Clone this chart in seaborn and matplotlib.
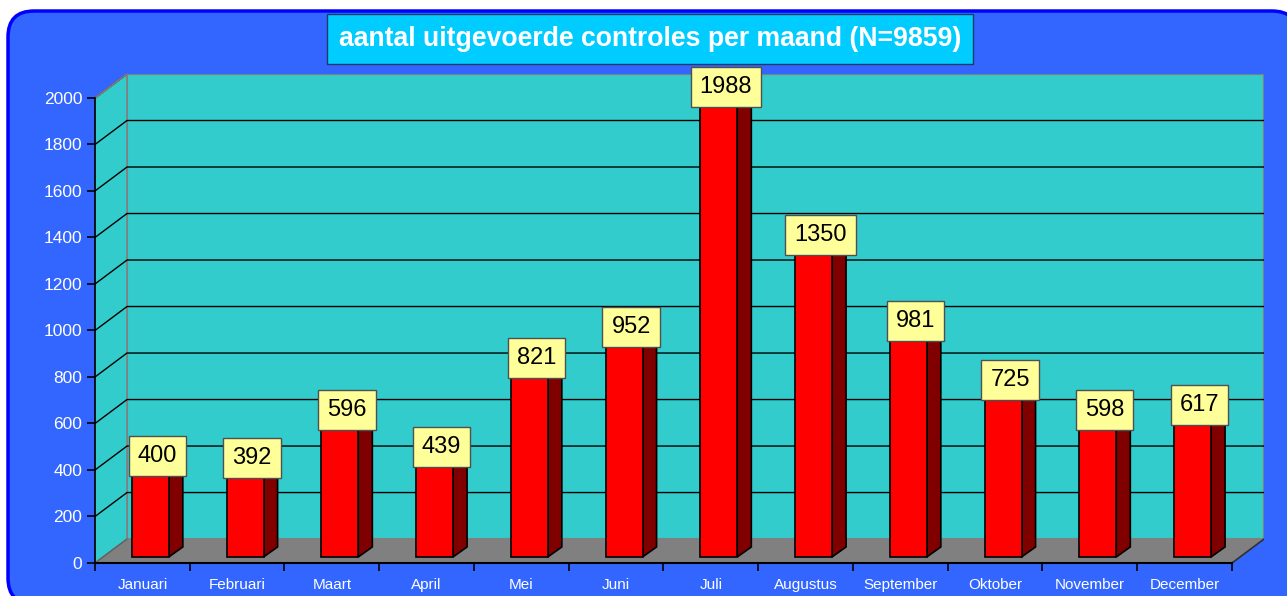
import matplotlib
matplotlib.use("Agg")
import matplotlib.pyplot as plt
import matplotlib.transforms as mtransforms
from matplotlib.patches import Polygon, FancyBboxPatch
import seaborn as sns

# DATA
maanden = ['Januari', 'Februari', 'Maart', 'April', 'Mei', 'Juni', 'Juli',
           'Augustus', 'September', 'Oktober', 'November', 'December']
controles = [400, 392, 596, 439, 821, 952, 1988, 1350, 981, 725, 598, 617]
y_ticks = [0, 200, 400, 600, 800, 1000, 1200, 1400, 1600, 1800, 2000]
titel = 'aantal uitgevoerde controles per maand (N=9859)'

sns.set_style("white")
plt.rcParams['font.family'] = ['Liberation Sans', 'DejaVu Sans']

# 3D look: depth of the back wall and of the bars (x in categories, y in values)
wall_dx, wall_dy = 0.338, 103
bar_dx, bar_dy = 0.084, 26        # bar base sits a bit behind the front edge
side_dx, side_dy = 0.148, 43      # depth of each bar
y_max = 2000
n = len(maanden)

fig = plt.figure(figsize=(12.87, 5.96), dpi=100)
fig.patch.set_facecolor('white')

# blue rounded background panel (pixel coordinates)
panel = FancyBboxPatch((8, -8), 1290, 585 + 8, boxstyle="round,pad=0,rounding_size=26",
                       transform=mtransforms.IdentityTransform(),
                       facecolor='#3366FF', edgecolor='#0000FF', linewidth=2.5, zorder=-5)
fig.patches.append(panel)

ax = fig.add_axes([95 / 1287, 33 / 596, 1169 / 1287, 489 / 596])
ax.set_facecolor('none')

# front faces of the bars
sns.barplot(x=maanden, y=controles, order=maanden, ax=ax, color='#FF0000',
            saturation=1, edgecolor='black', linewidth=1.2, width=0.39, zorder=4)

ax.set_xlim(-0.5, n - 0.5 + wall_dx)
ax.set_ylim(0, y_max + wall_dy)

# back wall + left wall
x0, x1 = -0.5, n - 0.5
ax.add_patch(Polygon([(x0 + wall_dx, wall_dy), (x1 + wall_dx, wall_dy),
                      (x1 + wall_dx, y_max + wall_dy), (x0 + wall_dx, y_max + wall_dy)],
                     closed=True, facecolor='#33CCCC', edgecolor='#808080', lw=1.5, zorder=1))
ax.add_patch(Polygon([(x0, 0), (x0 + wall_dx, wall_dy), (x0 + wall_dx, y_max + wall_dy),
                      (x0, y_max)], closed=True, facecolor='#33CCCC', edgecolor='#808080',
                     lw=1.2, zorder=1))
# floor
ax.add_patch(Polygon([(x0, 0), (x1, 0), (x1 + wall_dx, wall_dy), (x0 + wall_dx, wall_dy)],
                     closed=True, facecolor='#808080', edgecolor='none', zorder=2))
ax.plot([x1, x1 + wall_dx], [0, wall_dy], color='#303030', lw=1.2, zorder=2)
ax.plot([x0, x0 + wall_dx], [0, wall_dy], color='#606060', lw=1.0, zorder=2)

# grid lines on back and side wall
for v in y_ticks[1:]:
    ax.plot([x0, x0 + wall_dx, x1 + wall_dx], [v, v + wall_dy, v + wall_dy],
            color='black', lw=1.0, zorder=1.5)
ax.plot([x0 + wall_dx, x1 + wall_dx], [y_max + wall_dy] * 2, color='#808080', lw=1.5, zorder=1.6)
ax.plot([x0, x0 + wall_dx], [y_max, y_max + wall_dy], color='#808080', lw=1.2, zorder=1.6)

shift = mtransforms.Affine2D().translate(bar_dx, bar_dy) + ax.transData
for p, val in zip(ax.patches[:n], controles):
    p.set_transform(shift)
    p.set_zorder(4)
    xl = p.get_x() + bar_dx
    xr = xl + p.get_width()
    top = bar_dy + p.get_height()
    # side face
    ax.add_patch(Polygon([(xr, bar_dy), (xr + side_dx, bar_dy + side_dy),
                          (xr + side_dx, top + side_dy), (xr, top)], closed=True,
                         facecolor='#800000', edgecolor='black', lw=1.2, zorder=3.9))
    # top face
    ax.add_patch(Polygon([(xl, top), (xr, top), (xr + side_dx, top + side_dy),
                          (xl + side_dx, top + side_dy)], closed=True,
                         facecolor='#FF0000', edgecolor='black', lw=1.2, zorder=3.9))
    ax.text(xl + (xr - xl + side_dx) / 2, top + side_dy * 0.35 + 20, f'{val}',
            ha='center', va='center', fontsize=17, color='black', zorder=6, clip_on=False,
            bbox=dict(boxstyle='square,pad=0.38', facecolor='#FFFF99',
                      edgecolor='#505050', linewidth=1))

# axes: front y axis and x axis
for s in ['top', 'right']:
    ax.spines[s].set_visible(False)
ax.spines['left'].set_bounds(0, y_max)
ax.spines['bottom'].set_bounds(x0, x1)
ax.spines['left'].set_color('black')
ax.spines['bottom'].set_color('black')
ax.spines['left'].set_linewidth(1.2)
ax.spines['bottom'].set_linewidth(1.5)
ax.spines['left'].set_zorder(5)
ax.spines['bottom'].set_zorder(5)

ax.set_yticks(y_ticks)
ax.set_yticklabels([str(t) for t in y_ticks], color='white', fontsize=12.5)
ax.tick_params(axis='y', length=6, width=1.2, color='black', pad=3, left=True)

ax.set_xticks(range(n))
ax.set_xticklabels(maanden, color='white', fontsize=11)
ax.set_xticks([i - 0.5 for i in range(n + 1)], minor=True)
ax.tick_params(axis='x', which='major', length=0, pad=11)
ax.tick_params(axis='x', which='minor', length=6, width=1.2, color='black', bottom=True)
ax.set_xlim(-0.5, n - 0.5 + wall_dx)
ax.set_xlabel('')
ax.set_ylabel('')
ax.grid(False)

fig.text(650 / 1287, 1 - 39 / 596, titel, ha='center', va='center', fontsize=19.2,
         fontweight='bold', color='white',
         bbox=dict(boxstyle='square,pad=0.45', facecolor='#00CCFF', edgecolor='#1a3a6a',
                   linewidth=1))

fig.savefig('out.png', dpi=100)
